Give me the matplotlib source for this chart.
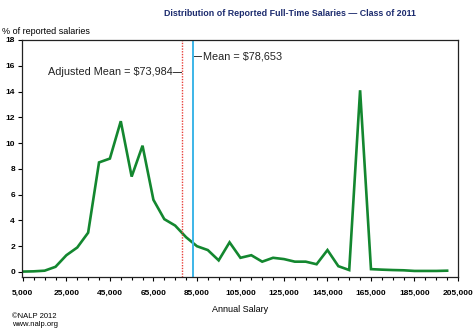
import numpy as np
import matplotlib
matplotlib.use("Agg")
import matplotlib.pyplot as plt
from matplotlib.ticker import MultipleLocator, FuncFormatter

# salary bins (every 5,000) and % of reported salaries
salary = np.arange(5000, 200001, 5000)
pct = [0.03, 0.05, 0.1, 0.4, 1.3, 1.9, 3.05, 8.5, 8.8, 11.7,
       7.4, 9.8, 5.6, 4.1, 3.6, 2.7, 2.0, 1.7, 0.9, 2.3,
       1.1, 1.3, 0.8, 1.1, 1.0, 0.8, 0.8, 0.6, 1.7, 0.45,
       0.15, 14.1, 0.22, 0.18, 0.15, 0.13, 0.08, 0.08, 0.08, 0.1]

# positions of the mean lines as drawn
adj_mean_x = 78100
mean_x = 83000
adj_mean_label = "Adjusted Mean = $73,984"
mean_label = "Mean = $78,653"

plt.rcParams['font.family'] = ['Liberation Sans', 'DejaVu Sans']

fig = plt.figure(figsize=(4.74, 3.30), dpi=100)
ax = fig.add_axes([22/474, 1 - 277/330, 436/474, 237/330])

ax.plot(salary, pct, color='#13872f', lw=1.9, solid_joinstyle='miter')
ax.axvline(adj_mean_x, color='#e8403a', lw=1.0, ls=(0, (1, 1)))
ax.axvline(mean_x, color='#3cb6e8', lw=1.4)

# label leaders
ax.plot([mean_x + 800, mean_x + 4000], [16.75, 16.75], color='#333333', lw=0.7)
ax.text(mean_x + 4800, 16.75, mean_label, fontsize=7.8, va='center', ha='left', color='#222222')
ax.plot([adj_mean_x - 4200, adj_mean_x - 600], [15.5, 15.5], color='#333333', lw=0.7)
ax.text(adj_mean_x - 4400, 15.5, adj_mean_label, fontsize=7.8, va='center', ha='right', color='#222222')

ax.set_xlim(4600, 205000)
ax.set_ylim(-0.39, 18)
ax.set_yticks(np.arange(0, 19, 2))
ax.set_xticks(np.arange(5000, 205001, 20000))
ax.xaxis.set_minor_locator(MultipleLocator(5000))
ax.xaxis.set_major_formatter(FuncFormatter(lambda v, p: f"{int(v):,}"))
ax.tick_params(axis='both', labelsize=6, length=3, width=0.8, pad=2)
ax.tick_params(axis='x', which='minor', length=2, width=0.8)
ax.tick_params(axis='x', pad=6)
for lab in ax.get_xticklabels() + ax.get_yticklabels():
    lab.set_fontweight('bold')
for s in ax.spines.values():
    s.set_linewidth(0.9)
    s.set_color('#222222')

fig.text(290/474, 1 - 13/330, "Distribution of Reported Full-Time Salaries — Class of 2011",
         fontsize=6.4, fontweight='bold', color='#1c2b6e', ha='center', va='center')
fig.text(2/474, 1 - 31/330, "% of reported salaries", fontsize=6.5, ha='left', va='center')
fig.text(240/474, 1 - 309/330, "Annual Salary", fontsize=6.5, ha='center', va='center')
fig.text(12/474, 1 - 316/330, "\u00a9NALP 2012", fontsize=5.5, ha='left', va='center')
fig.text(12/474, 1 - 325/330, "www.nalp.org", fontsize=5.5, ha='left', va='center')

fig.savefig("out.png", dpi=100)
